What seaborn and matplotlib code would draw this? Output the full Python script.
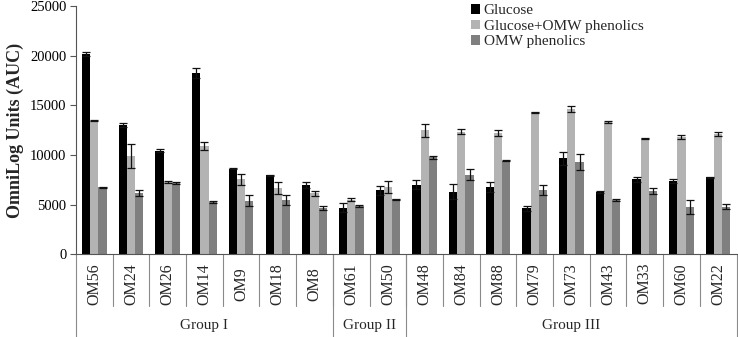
import matplotlib
matplotlib.use('Agg')
import matplotlib.pyplot as plt
import seaborn as sns
import pandas as pd
from matplotlib.transforms import blended_transform_factory

# ---------------- data ----------------
strains = ["OM56", "OM24", "OM26", "OM14", "OM9", "OM18", "OM8",
           "OM61", "OM50",
           "OM48", "OM84", "OM88", "OM79", "OM73", "OM43", "OM33", "OM60", "OM22"]
groups = ["Group I", "Group II", "Group III"]
group_sizes = [7, 2, 9]
series = ["Glucose", "Glucose+OMW phenolics", "OMW phenolics"]

glucose = [20150, 13000, 10450, 18300, 8600, 7950, 7000,
           4700, 6450,
           7000, 6300, 6750, 4650, 9700, 6300, 7550, 7350, 7750]
glucose_err = [200, 200, 150, 500, 50, 50, 300,
               450, 450,
               450, 750, 500, 250, 650, 100, 250, 200, 30]
mix = [13450, 9900, 7300, 10900, 7550, 6650, 6150,
       5500, 6750,
       12500, 12350, 12250, 14300, 14650, 13350, 11700, 11800, 12150]
mix_err = [50, 1250, 80, 400, 550, 600, 270,
           150, 600,
           650, 250, 300, 80, 300, 80, 50, 200, 200]
omw = [6750, 6150, 7200, 5250, 5400, 5450, 4700,
       4900, 5550,
       9800, 8000, 9450, 6450, 9300, 5500, 6400, 4750, 4800]
omw_err = [80, 300, 60, 120, 550, 500, 200,
           120, 50,
           150, 550, 50, 500, 850, 80, 300, 700, 250]

colors = ["#000000", "#b3b3b3", "#7f7f7f"]

# ---------------- plot ----------------
sns.set_theme(style="white")
plt.rcParams['font.family'] = ['Liberation Serif', 'DejaVu Serif']

df = pd.DataFrame({
    "strain": strains * 3,
    "series": [series[0]] * len(strains) + [series[1]] * len(strains) + [series[2]] * len(strains),
    "value": glucose + mix + omw,
})

fig = plt.figure(figsize=(7.38, 3.37), dpi=100)
ax = fig.add_axes([0.103, 0.245, 0.895, 0.737])

sns.barplot(data=df, x="strain", y="value", hue="series", order=strains,
            hue_order=series, palette=colors, saturation=1, width=0.67,
            errorbar=None, linewidth=0, ax=ax)

for cont, errs in zip(ax.containers, [glucose_err, mix_err, omw_err]):
    xs = [b.get_x() + b.get_width() / 2 for b in cont]
    ys = [b.get_height() for b in cont]
    ax.errorbar(xs, ys, yerr=errs, fmt="none", ecolor="#111111",
                elinewidth=0.9, capsize=2.6, capthick=0.9, zorder=5)

ax.set_xlim(-0.5, len(strains) - 0.5)
ax.set_ylim(0, 25000)
ax.set_yticks([0, 5000, 10000, 15000, 20000, 25000])
ax.tick_params(axis='y', which='both', left=True, length=4, width=0.8,
               color="#555555", labelsize=10.5, pad=3, labelcolor="black")
ax.tick_params(axis='x', bottom=False, labelbottom=False)
ax.set_xlabel("")
ax.set_ylabel("OmniLog Units (AUC)", fontsize=13, fontweight="bold", labelpad=4)

for s in ["top", "right"]:
    ax.spines[s].set_visible(False)
for s in ["left", "bottom"]:
    ax.spines[s].set_color("#555555")
    ax.spines[s].set_linewidth(0.8)

trans = blended_transform_factory(ax.transData, ax.transAxes)
line_col = "#8a8a8a"
# category separators
for i in range(1, len(strains)):
    ax.plot([i - 0.5, i - 0.5], [0, -0.209], transform=trans, color=line_col,
            lw=0.8, clip_on=False)
# group separators
bounds = [0]
for g in group_sizes:
    bounds.append(bounds[-1] + g)
for b in bounds:
    ax.plot([b - 0.5, b - 0.5], [0, -0.335], transform=trans, color=line_col,
            lw=0.8, clip_on=False)
# category labels
for i, s in enumerate(strains):
    ax.text(i, -0.118, s, transform=trans, rotation=90, ha="center",
            va="center", fontsize=11.5)
# group labels
for g, a, b in zip(groups, bounds[:-1], bounds[1:]):
    ax.text((a + b - 1) / 2, -0.288, g, transform=trans, ha="center",
            va="center", fontsize=11)

handles, labels = ax.get_legend_handles_labels()
ax.legend(handles, labels, loc="upper left", bbox_to_anchor=(0.638, 0.988),
          bbox_transform=fig.transFigure, frameon=False, fontsize=11,
          handlelength=0.6, handleheight=0.6, handletextpad=0.25,
          labelspacing=0.15, borderpad=0, borderaxespad=0)

fig.savefig("out.png", dpi=100)
